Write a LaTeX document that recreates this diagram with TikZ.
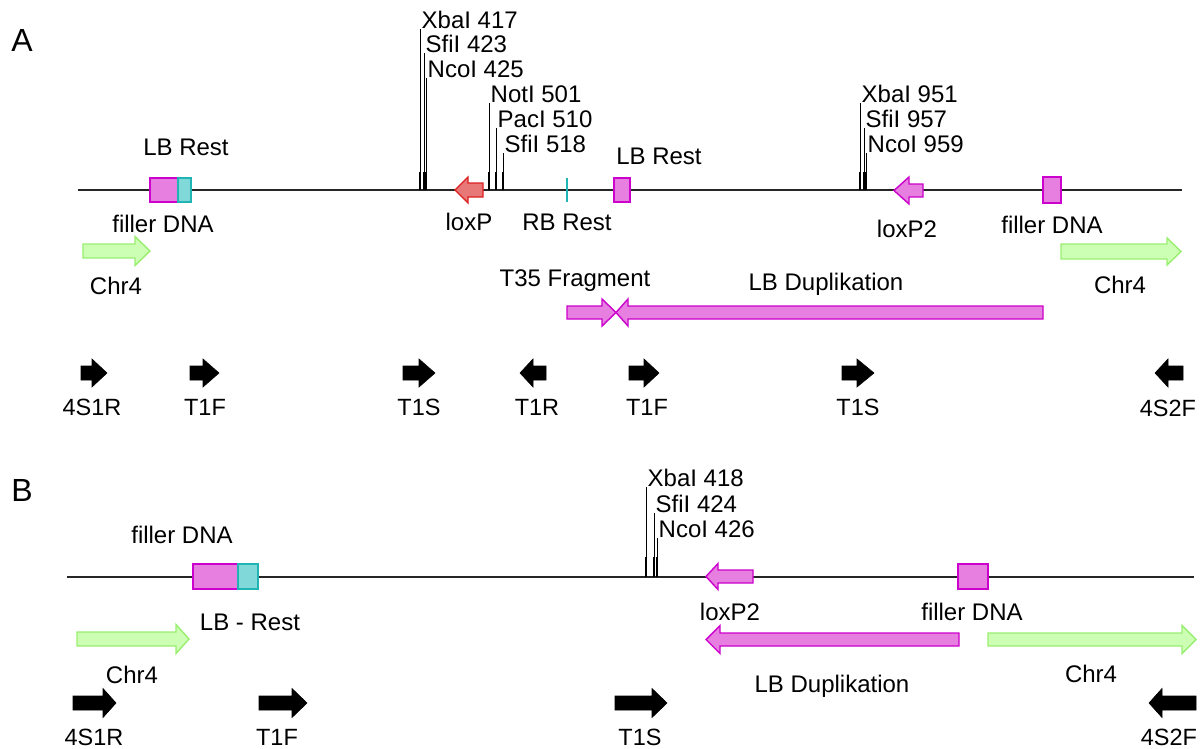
\documentclass[tikz,border=0pt]{standalone}
\usepackage{fontspec}
\setmainfont{Liberation Sans}
\definecolor{magfill}{HTML}{E67FE0}
\definecolor{magline}{HTML}{CC00CC}
\definecolor{cyfill}{HTML}{80D8D8}
\definecolor{cyline}{HTML}{20B4B4}
\definecolor{grfill}{HTML}{CCFFB4}
\definecolor{grline}{HTML}{99EE70}
\definecolor{rdfill}{HTML}{E87878}
\definecolor{rdline}{HTML}{DD2020}
\newcommand\shapearrow[7]{%
  \draw[#1] (#2,#5-#6) -- (#3,#5-#6) -- (#3,#5-#7) -- (#4,#5) -- (#3,#5+#7) -- (#3,#5+#6) -- (#2,#5+#6) -- cycle;}
\newcommand\sitemark[5]{% x, top, bottom, thick length, label
  \draw[line width=0.7pt] (#1,#3) -- (#1,#2);
  \draw[line width=1.7pt] (#1,#3) -- (#1,#3-#4);
  \node[sitelab, anchor=south west] at (#1+1.5,#2) {#5};}
\tikzset{
  lab/.style={font=\fontsize{24}{28}\selectfont, inner sep=0pt, text height=17pt, text depth=0pt},
  plab/.style={font=\fontsize{23.5}{27}\selectfont, inner sep=0pt, text height=16.5pt, text depth=0pt},
  sitelab/.style={font=\fontsize{24}{28}\selectfont, inner sep=0pt, text height=16.5pt, text depth=0pt},
  panel/.style={font=\fontsize{32}{36}\selectfont, inner sep=0pt},
  dna/.style={line width=1.3pt, black!85},
  magbox/.style={draw=magline, fill=magfill, line width=1.4pt},
  cybox/.style={draw=cyline, fill=cyfill, line width=1.4pt},
  grarrow/.style={draw=grline, fill=grfill, line width=1.4pt},
  magarrow/.style={draw=magline, fill=magfill, line width=1.4pt},
  rdarrow/.style={draw=rdline, fill=rdfill, line width=1.4pt},
  primer/.style={fill=black, draw=black, line width=0.6pt},
}
\begin{document}
\begin{tikzpicture}[x=1pt, y=-1pt]
\useasboundingbox (0,0) rectangle (1204,749);
% ================= Panel A =================
\node[panel] (pA) at (22,40) {A};
\coordinate (Astart) at (78,190);
\coordinate (Aend) at (1182,190);
\draw[dna] (Astart) -- (Aend);
% restriction sites
\sitemark{420}{29}{190}{18}{XbaI 417}
\sitemark{424}{53}{190}{18}{SfiI 423}
\sitemark{426}{78}{190}{18}{NcoI 425}
\sitemark{489}{103}{190}{18}{NotI 501}
\sitemark{496}{128}{190}{18}{PacI 510}
\sitemark{503}{153}{190}{18}{SfiI 518}
\sitemark{860}{103}{190}{18}{XbaI 951}
\sitemark{864}{128}{190}{18}{SfiI 957}
\sitemark{866}{153}{190}{18}{NcoI 959}
% left LB rest + filler
\draw[magbox] (150,178) rectangle (178,202);
\draw[cybox] (178,178) rectangle (191,202);
\node[lab] (lbrA1) at (186,147) {LB Rest};
\node[lab] (fillA1) at (163,224) {filler DNA};
\shapearrow{grarrow}{83}{135}{150}{251}{7}{14.5}
\node[lab] (chrA1) at (116,286) {Chr4};
% loxP
\shapearrow{rdarrow}{483}{468}{455}{190}{7}{13}
\node[lab] (loxA) at (469,222) {loxP};
% RB rest
\draw[cyline, line width=1.5pt] (567,178) -- (567,202);
\node[lab] (rbA) at (567,222) {RB Rest};
% LB rest 2
\draw[magbox] (614,178) rectangle (630,202);
\node[lab] (lbrA2) at (659,156) {LB Rest};
% T35 fragment and LB duplication
\shapearrow{magarrow}{567}{602}{616}{312.5}{6.5}{13.5}
\shapearrow{magarrow}{1043}{628}{616}{312.5}{6.5}{13.5}
\node[lab] (t35A) at (575,278) {T35 Fragment};
\node[lab] (lbdA) at (826,282) {LB Duplikation};
% loxP2
\shapearrow{magarrow}{923}{909}{894}{190.5}{6.5}{13.5}
\node[lab] (lox2A) at (907,229) {loxP2};
% filler right
\draw[magbox] (1043,177) rectangle (1061,203);
\node[lab] (fillA2) at (1052,225) {filler DNA};
\shapearrow{grarrow}{1061}{1167}{1181}{251.5}{7.5}{13.5}
\node[lab] (chrA2) at (1120,285) {Chr4};
% primers A
\shapearrow{primer}{81}{92}{107}{373}{7}{14}
\node[plab] (pA1) at (92,407) {4S1R};
\shapearrow{primer}{190}{203}{219}{373}{7}{14}
\node[plab] (pA2) at (205,407) {T1F};
\shapearrow{primer}{403}{419}{435}{373}{7}{14}
\node[plab] (pA3) at (419,407) {T1S};
\shapearrow{primer}{546}{533}{520}{373}{7}{14}
\node[plab] (pA4) at (537,407) {T1R};
\shapearrow{primer}{629}{644}{659}{373}{7}{14}
\node[plab] (pA5) at (647,407) {T1F};
\shapearrow{primer}{842}{857}{874}{373}{7}{14}
\node[plab] (pA6) at (858,407) {T1S};
\shapearrow{primer}{1183}{1168}{1155}{373}{7}{14}
\node[plab] (pA7) at (1168,408) {4S2F};
% ================= Panel B =================
\node[panel] (pB) at (22,490) {B};
\coordinate (Bstart) at (67,577);
\coordinate (Bend) at (1194,577);
\draw[dna] (Bstart) -- (Bend);
\sitemark{646}{487}{577}{20}{XbaI 418}
\sitemark{654}{513}{577}{20}{SfiI 424}
\sitemark{657}{538}{577}{20}{NcoI 426}
\draw[magbox] (193,564) rectangle (238,589);
\draw[cybox] (238,564) rectangle (258,589);
\node[lab] (fillB1) at (182,535) {filler DNA};
\node[lab] (lbrB) at (250,622) {LB - Rest};
\shapearrow{grarrow}{77}{176}{189}{639}{7}{14.5}
\node[lab] (chrB1) at (132,675) {Chr4};
\shapearrow{magarrow}{753}{718}{706}{576.5}{6.5}{13}
\node[lab] (lox2B) at (730,612) {loxP2};
\draw[magbox] (958,564) rectangle (988,589);
\node[lab] (fillB2) at (972,612) {filler DNA};
\shapearrow{magarrow}{959}{720}{706}{639.5}{6.5}{14}
\node[lab] (lbdB) at (832,684) {LB Duplikation};
\shapearrow{grarrow}{988}{1182}{1196}{639.5}{6.5}{14}
\node[lab] (chrB2) at (1091,674) {Chr4};
% primers B
\shapearrow{primer}{73}{103}{116}{703}{7}{14.5}
\node[plab] (pB1) at (94,737) {4S1R};
\shapearrow{primer}{259}{292}{307}{703}{7}{14.5}
\node[plab] (pB2) at (277,737) {T1F};
\shapearrow{primer}{615}{652}{667}{703}{7}{14.5}
\node[plab] (pB3) at (640,737) {T1S};
\shapearrow{primer}{1196}{1162}{1149}{703}{7}{14.5}
\node[plab] (pB4) at (1169,737) {4S2F};
\end{tikzpicture}
\end{document}
